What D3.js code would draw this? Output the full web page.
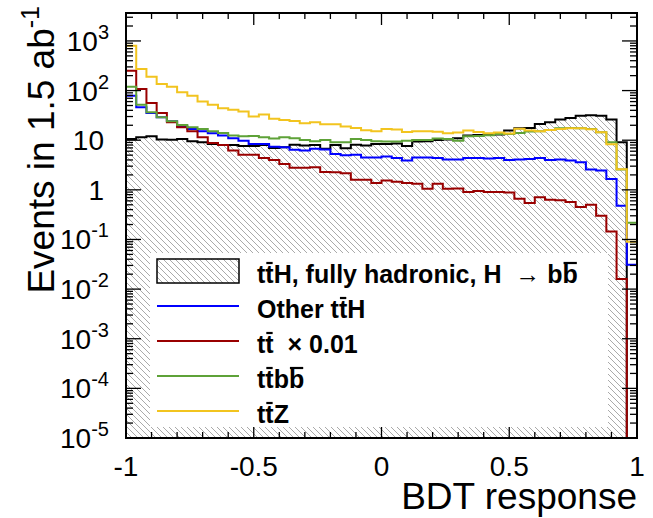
<!DOCTYPE html>
<html><head><meta charset="utf-8">
<script src="https://cdn.jsdelivr.net/npm/d3@7"></script>
<style>body{margin:0;background:#fff} svg{display:block}</style>
</head><body>
<svg id="c" width="653" height="518"></svg>
<script>
// ---- data (50 bins on BDT response -1..1) ----
const xRange = [-1, 1];
const ttHhad = [10.6, 11.5, 12, 10.3, 10.2, 10.6, 9.5, 9.1, 8.4, 8.0, 8.0, 7.6, 7.6,
  8.0, 7.0, 7.2, 8.1, 7.8, 8.0, 6.7, 8.0, 6.9, 8.1, 7.8, 8.4,
  8.4, 8.6, 7.6, 9.4, 9.5, 10.1, 10.3, 11.0, 12.4, 12.8, 13, 13, 15.6,
  17.4, 17.6, 21.3, 23, 26, 28, 31, 32, 31, 26, 9.1, 0];
const otherTTH = [79, 46, 35.4, 29, 24, 19, 16.9, 15.1, 13.8, 12.4, 11, 9.8, 8.4,
  8.4, 7.4, 7.2, 6.4, 6.2, 6.7, 6.5, 5.3, 5.0, 5.1, 4.5, 4.5,
  4.7, 4.4, 3.9, 4.5, 4.5, 4.4, 4.07, 4.07, 4.4, 4.4, 4.3, 4.4, 4.0,
  4.07, 4.2, 4.4, 4.0, 4.07, 3.9, 3.6, 2.56, 2.45, 1.66, 0.48, 0.031];
const ttbar = [250, 108, 56, 35.4, 23, 18.3, 15.1, 11.5, 8.8, 8.0, 6.2, 5.1, 5.1,
  4.4, 4.0, 3.3, 2.8, 2.8, 2.86, 2.3, 2.25, 2.16, 1.6, 1.6, 1.38,
  1.55, 1.45, 1.38, 1.32, 1.05, 1.32, 1.05, 1.07, 0.9, 0.95, 0.9, 0.9, 0.88,
  0.66, 0.54, 0.71, 0.63, 0.62, 0.57, 0.45, 0.5, 0.30, 0.145, 0.016, 0];
const ttbb = [120, 52, 36.6, 29, 24, 20.3, 18.3, 16.9, 15.1, 14, 12.4, 12, 12.2,
  11.5, 10.8, 11.5, 11, 10.1, 9.5, 10.1, 9.1, 9.1, 10.6, 10.1, 9.5,
  9.4, 9.4, 9.8, 10.1, 10.1, 10.8, 10.6, 9.8, 12, 12.2, 12.6, 13.4, 13.4,
  14, 14.9, 15.1, 16.1, 17.4, 17.6, 17.4, 16.9, 14.5, 9.1, 2.56, 0.217];
const ttZ = [800, 272, 190, 136, 120, 92, 79, 60, 52, 44, 41, 38, 30,
  33, 27, 25.6, 24.4, 22, 23, 21, 21, 18.8, 17.7, 15.9, 15.1,
  16.9, 16.4, 14.7, 15.1, 15.1, 14.8, 13.8, 14.3, 15.6, 14.7, 13.8, 14.3, 13.6,
  17.1, 15.6, 15.1, 16.1, 16.9, 17.4, 17.4, 16.6, 14.5, 8.3, 2.6, 0.09];
const xTickMajor = [-1, -0.5, 0, 0.5, 1];
const xTickLabels = ["-1", "-0.5", "0", "0.5", "1"];
const yDecades = [-5, -4, -3, -2, -1, 0, 1, 2, 3];
const yMin = 1e-5, yMax = Math.pow(10, 3.563);

const series = [
  {vals: otherTTH, color: "#0000ff"},
  {vals: ttbar, color: "#990000"},
  {vals: ttbb, color: "#5ea238"},
  {vals: ttZ, color: "#f2c41f"}
];

const FONT = "'Liberation Sans', Arial, Helvetica, sans-serif";
const svg = d3.select("#c");
const x = d3.scaleLinear().domain(xRange).range([126, 637]);
const y = d3.scaleLog().domain([yMin, yMax]).range([438, 13]);
const [x0, x1] = x.range(); const [yb, yt] = y.range();

const defs = svg.append("defs");
const pat = defs.append("pattern").attr("id", "hatch").attr("patternUnits", "userSpaceOnUse")
  .attr("width", 6).attr("height", 6);
pat.append("path").attr("d", "M-1,-1L7,7M-1,5L1,7M5,-1L7,1")
  .attr("stroke", "#a0a0a0").attr("stroke-width", 0.9).attr("fill", "none");
defs.append("clipPath").attr("id", "clip").append("rect")
  .attr("x", x0).attr("y", yt).attr("width", x1 - x0).attr("height", yb - yt);

function histPts(vals) {
  const w = (xRange[1] - xRange[0]) / vals.length;
  const pts = [[x(xRange[0]), yb]];
  vals.forEach((v, i) => {
    const yy = v > 0 ? y(Math.max(v, yMin)) : yb;
    pts.push([x(xRange[0] + i * w), yy]);
    pts.push([x(xRange[0] + (i + 1) * w), yy]);
  });
  pts.push([x(xRange[1]), yb]);
  return pts;
}
const line = d3.line();
const g = svg.append("g").attr("clip-path", "url(#clip)");
g.append("path").attr("d", line(histPts(ttHhad)) + "Z").attr("fill", "url(#hatch)").attr("stroke", "none");
g.append("path").attr("d", line(histPts(ttHhad))).attr("fill", "none").attr("stroke", "#000").attr("stroke-width", 2);
series.forEach(s => {
  g.append("path").attr("d", line(histPts(s.vals))).attr("fill", "none")
    .attr("stroke", s.color).attr("stroke-width", 2);
});

// ---- axes ticks ----
const ticks = svg.append("g").attr("stroke", "#000").attr("stroke-width", 1.3);
const xMinor = d3.range(-10, 11).map(k => k / 10);
xMinor.forEach(v => {
  const major = xTickMajor.some(m => Math.abs(m - v) < 1e-9);
  const L = major ? 12 : 6;
  ticks.append("line").attr("x1", x(v)).attr("x2", x(v)).attr("y1", yb).attr("y2", yb - L);
  ticks.append("line").attr("x1", x(v)).attr("x2", x(v)).attr("y1", yt).attr("y2", yt + L);
});
for (let d = -5; d <= 3; d++) {
  for (let k = 1; k <= 9; k++) {
    const v = k * Math.pow(10, d);
    if (v < yMin * 0.999 || v > yMax) continue;
    const L = k === 1 ? 15 : 7;
    ticks.append("line").attr("x1", x0).attr("x2", x0 + L).attr("y1", y(v)).attr("y2", y(v));
    ticks.append("line").attr("x1", x1).attr("x2", x1 - L).attr("y1", y(v)).attr("y2", y(v));
  }
}
svg.append("rect").attr("x", x0).attr("y", yt).attr("width", x1 - x0).attr("height", yb - yt)
  .attr("fill", "none").attr("stroke", "#000").attr("stroke-width", 2);

// tick labels
xTickMajor.forEach((v, i) => {
  svg.append("text").attr("x", x(v)).attr("y", 476).attr("text-anchor", "middle")
    .attr("font-family", FONT).attr("font-size", 28).text(xTickLabels[i]);
});
yDecades.forEach(d => {
  const t = svg.append("text").attr("y", y(Math.pow(10, d)) + 10).attr("text-anchor", "end")
    .attr("font-family", FONT).attr("font-size", 28);
  if (d === 0 || d === 1) {
    t.attr("x", 104).text(d === 0 ? "1" : "10");
  } else {
    t.attr("x", 109);
    t.append("tspan").text("10");
    t.append("tspan").attr("dy", -12).attr("font-size", 20).text(String(d));
  }
});

// axis titles
svg.append("text").attr("x", 637).attr("y", 509).attr("text-anchor", "end")
  .attr("font-family", FONT).attr("font-size", 37).text("BDT response");
const yt_ = svg.append("text").attr("transform", "translate(54,6) rotate(-90)").attr("text-anchor", "end")
  .attr("font-family", FONT).attr("font-size", 37);
yt_.append("tspan").text("Events in 1.5 ab");
yt_.append("tspan").attr("dy", -15).attr("font-size", 25).text("-1");

// ---- legend ----
const leg = svg.append("g");
leg.append("rect").attr("x", 150).attr("y", 253).attr("width", 458).attr("height", 174).attr("fill", "#fff");
const legendItems = [
  {label: "ttH, fully hadronic, H\u00A0\u00A0\u2192 bb", bars: [1, 27], type: "box"},
  {label: "Other ttH", bars: [7], color: "#0000ff"},
  {label: "tt\u00A0\u00A0\u00D7 0.01", bars: [1], color: "#990000"},
  {label: "ttbb", bars: [1, 3], color: "#5ea238"},
  {label: "ttZ", bars: [1], color: "#f2c41f"}
];
legendItems.forEach((it, i) => {
  const cy = 271 + i * 35;
  if (it.type === "box") {
    leg.append("rect").attr("x", 157).attr("y", cy - 12).attr("width", 82).attr("height", 24)
      .attr("fill", "url(#hatch)").attr("stroke", "#000").attr("stroke-width", 1.5);
  } else {
    leg.append("line").attr("x1", 157).attr("x2", 239).attr("y1", cy).attr("y2", cy)
      .attr("stroke", it.color).attr("stroke-width", 2);
  }
  const base = cy + 12;
  const t = leg.append("text").attr("x", 257).attr("y", base).attr("font-family", FONT)
    .attr("font-size", 25).attr("font-weight", "bold").text(it.label);
  const node = t.node();
  it.bars.forEach(ci => {
    if (ci >= node.getNumberOfChars()) return;
    const e = node.getExtentOfChar(ci);
    leg.append("line").attr("x1", e.x + 1).attr("x2", e.x + e.width - 1)
      .attr("y1", base - 20).attr("y2", base - 20).attr("stroke", "#000").attr("stroke-width", 2.2);
  });
});
</script>
</body></html>
